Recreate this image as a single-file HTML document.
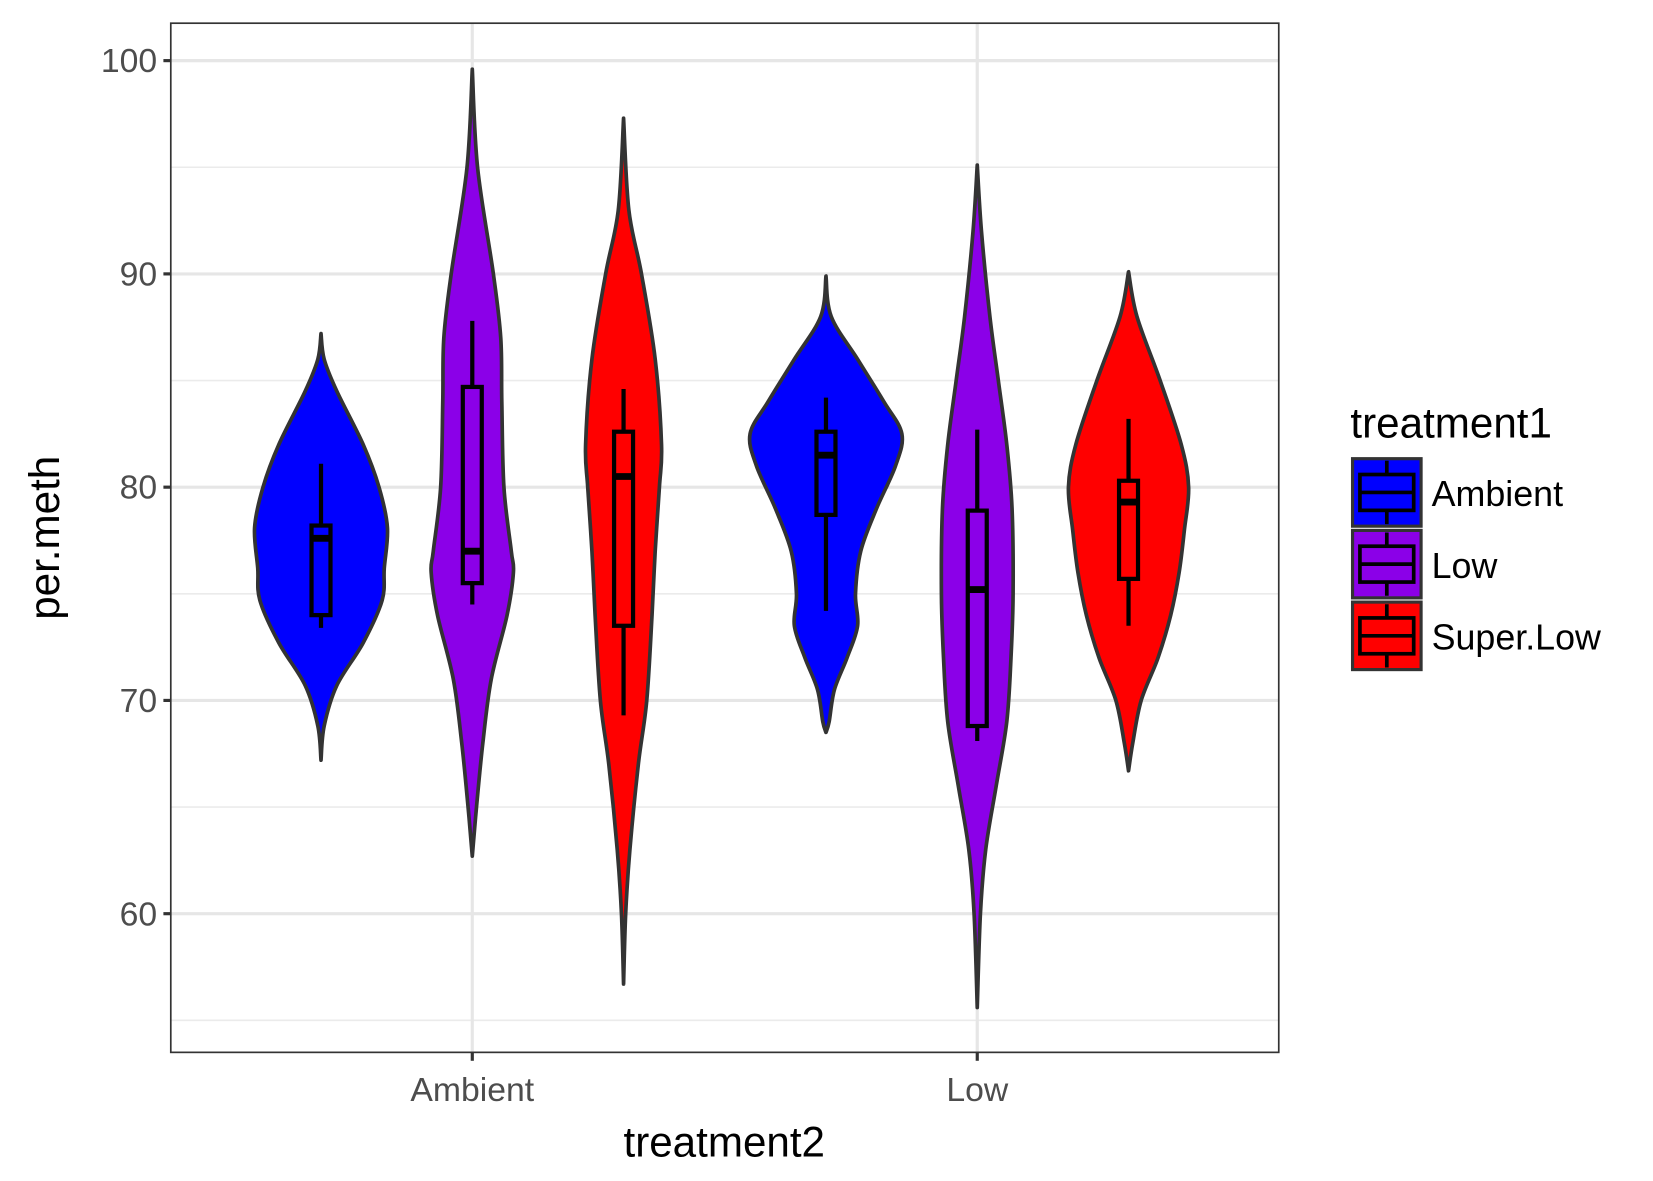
<!DOCTYPE html>
<html><head><meta charset="utf-8"><style>
html,body{margin:0;padding:0;background:#fff;}
svg{display:block;font-family:"Liberation Sans",Arial,sans-serif;}
</style></head><body>
<svg width="1653" height="1181" viewBox="0 0 1568 1120" preserveAspectRatio="none" xmlns="http://www.w3.org/2000/svg">
<rect x="0" y="0" width="1568" height="1120" fill="#fff"/>
<g id="grid"></g>
<g id="marks"></g>
<rect x="162" y="22" width="1051" height="976" fill="none" stroke="#333" stroke-width="1.6"/>
<g id="axes"></g>
<text transform="translate(56,510) rotate(-90)" text-anchor="middle" font-size="40" fill="#000">per.meth</text>
<text x="687" y="1097" text-anchor="middle" font-size="40" fill="#000">treatment2</text>
<g id="legend">
<text x="1281" y="415" font-size="40" fill="#000">treatment1</text>
</g>
</svg>
<script>
const groups = ["Ambient","Low"];
const fills = ["Ambient","Low","Super.Low"];
const colors = {"Ambient":"#0000ff","Low":"#8b00e8","Super.Low":"#ff0000"};
const yTicks = [60,70,80,90,100];
const yMinor = [55,65,75,85,95];
// violin profiles: values and relative half-width (density)
const vVals = [
 [67.2,68.8,70.7,72.7,74.7,76.2,78.1,80,82,84.5,86,87.2],
 [62.7,65,68,71,74,76,77,80,84,87,90,95,99.6],
 [56.7,60,63,67,70,74,77,80,82,86,90,93,97.3],
 [68.5,69,70.5,72,73.5,75,77,79,81,82.5,84,86,88,89.9],
 [55.6,60,63,66,69,72,75,79,82,85,88,92,95.1],
 [66.7,68,70,72,74,76,78,80,82,85,88,90.1]
];
const vWidth = [
 [0,3,15,40,58,60,63,55,40,15,3,0],
 [0,4,10,18,33,39,37,30,28,27,20,5,0],
 [0,2,6,14,22,27,30,34,36,30,17,5,0],
 [0,3,8,20,30,28,33,48,66,72,55,30,5,0],
 [0,3,8,18,28,32,34,33,28,20,12,4,0],
 [0,4,12,28,40,48,53,57,50,30,8,0]
];
// box stats: [lowWhisker, q1, median, q3, highWhisker]
const boxStats = [
 [73.4,74,77.6,78.2,81.1],
 [74.5,75.5,77,84.7,87.8],
 [69.3,73.5,80.5,82.6,84.6],
 [74.2,78.7,81.5,82.6,84.2],
 [68.1,68.8,75.2,78.9,82.7],
 [73.5,75.7,79.3,80.3,83.2]
];
const NS="http://www.w3.org/2000/svg";
function y(v){return 462 - (v-80)*20.225;}
function xg(i){return 448 + i*479;}
function xd(g,f){return xg(g) + (f-1)*143.5;}
function el(tag,attrs,parent){const e=document.createElementNS(NS,tag);for(const k in attrs)e.setAttribute(k,attrs[k]);parent.appendChild(e);return e;}
const grid=document.getElementById('grid'),marks=document.getElementById('marks'),axes=document.getElementById('axes'),legend=document.getElementById('legend');
yMinor.forEach(v=>{const l=el('line',{x1:162,x2:1213,y1:y(v),y2:y(v),stroke:'#ebebeb','stroke-width':1.5},grid);

});
yTicks.forEach(v=>{const l=el('line',{x1:162,x2:1213,y1:y(v),y2:y(v),stroke:'#e6e6e6','stroke-width':3},grid);


const t=el('line',{x1:155,x2:162,y1:y(v),y2:y(v),stroke:'#333','stroke-width':3},axes);


const tx=el('text',{x:149,y:y(v)+11,'text-anchor':'end','font-size':32,fill:'#4d4d4d'},axes);tx.textContent=v;

});
groups.forEach((g,i)=>{const l=el('line',{x1:xg(i),x2:xg(i),y1:22,y2:998,stroke:'#e6e6e6','stroke-width':3},grid);


const t=el('line',{x1:xg(i),x2:xg(i),y1:998,y2:1006,stroke:'#333','stroke-width':3},axes);


const tx=el('text',{x:xg(i),y:1044,'text-anchor':'middle','font-size':32,fill:'#4d4d4d'},axes);tx.textContent=g;

});
function smooth(pts){let d='M'+pts[0][0]+','+pts[0][1];for(let i=0;i<pts.length-1;i++){const p0=pts[Math.max(0,i-1)],p1=pts[i],p2=pts[i+1],p3=pts[Math.min(pts.length-1,i+2)];
const c1=[p1[0]+(p2[0]-p0[0])/6,p1[1]+(p2[1]-p0[1])/6],c2=[p2[0]-(p3[0]-p1[0])/6,p2[1]-(p3[1]-p1[1])/6];
d+=' C'+c1[0]+','+c1[1]+' '+c2[0]+','+c2[1]+' '+p2[0]+','+p2[1];}return d;}
for(let k=0;k<6;k++){const g=Math.floor(k/3),f=k%3,cx=xd(g,f);
const right=vVals[k].map((v,i)=>[cx+vWidth[k][i],y(v)]);
const left=vVals[k].map((v,i)=>[cx-vWidth[k][i],y(v)]).reverse();
const d=smooth(right)+' L'+smooth(left).slice(1)+' Z';
const p=el('path',{d:d,fill:colors[fills[f]],stroke:'#333','stroke-width':3.5,'stroke-linejoin':'round'},marks);


const b=boxStats[k];
const w1=el('line',{x1:cx,x2:cx,y1:y(b[0]),y2:y(b[4]),stroke:'#000','stroke-width':4},marks);


const r=el('rect',{x:cx-9,y:y(b[3]),width:18,height:y(b[1])-y(b[3]),fill:colors[fills[f]],stroke:'#000','stroke-width':4},marks);


const m=el('line',{x1:cx-9,x2:cx+9,y1:y(b[2]),y2:y(b[2]),stroke:'#000','stroke-width':6.5},marks);

}
fills.forEach((f,i)=>{const ty=435+i*68;
const g=el('g',{},legend);


el('rect',{x:1283,y:ty,width:65,height:64,fill:colors[f],stroke:'#333','stroke-width':3},g);
el('line',{x1:1315.5,x2:1315.5,y1:ty+2,y2:ty+62,stroke:'#000','stroke-width':3.5},g);
el('rect',{x:1290,y:ty+15,width:51,height:34,fill:colors[f],stroke:'#000','stroke-width':3.5},g);
el('line',{x1:1290,x2:1341,y1:ty+32,y2:ty+32,stroke:'#000','stroke-width':3.5},g);
const t=el('text',{x:1358,y:ty+45,'font-size':34,fill:'#000'},g);t.textContent=f;});
</script>
</body></html>
